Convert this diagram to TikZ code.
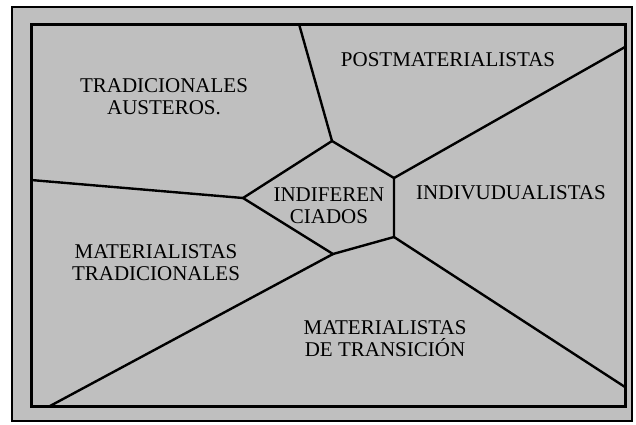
\documentclass[tikz,border=0pt]{standalone}
\usepackage{fontspec}
\setmainfont{Liberation Serif}
\begin{document}
\begin{tikzpicture}[x=1pt,y=-1pt,
  frame/.style={line width=3pt},
  seg/.style={line width=2.4pt, line join=miter},
  lbl/.style={font=\fontsize{21}{24}\selectfont, align=center, inner sep=0pt, text=black}]
\useasboundingbox (0,0) rectangle (636,424);
% outer thin frame with dotted-gray fill
\fill[black!25] (12,7) rectangle (632,421);
\draw[line width=1.5pt] (12,7) rectangle (632,421);
% inner thick frame
\draw[frame] (31,24) rectangle (625,406);
% pentagon vertices
\coordinate (pL) at (243,198);
\coordinate (pT) at (332,141);
\coordinate (pRT) at (394,178);
\coordinate (pRB) at (394,237);
\coordinate (pB) at (333,254);
% frame end points
\coordinate (eT) at (299,24);
\coordinate (eR) at (625,47);
\coordinate (eL) at (31,180);
\coordinate (eB) at (50,406);
\coordinate (eBR) at (625,387);
\draw[seg] (pL) -- (pT) -- (pRT) -- (pRB) -- (pB) -- cycle;
\draw[seg] (pT) -- (eT);
\draw[seg] (pRT) -- (eR);
\draw[seg] (pL) -- (eL);
\draw[seg] (pB) -- (eB);
\draw[seg] (pRB) -- (eBR);
% labels
\node[lbl] (ta) at (164,97) {TRADICIONALES\\[-2pt]AUSTEROS.};
\node[lbl] (pm) at (448,60) {POSTMATERIALISTAS};
\node[lbl] (ind) at (329,206) {INDIFEREN\\[-2pt]CIADOS};
\node[lbl] (iv) at (511,193) {INDIVUDUALISTAS};
\node[lbl] (mt) at (156,263) {MATERIALISTAS\\[-2pt]TRADICIONALES};
\node[lbl] (md) at (385,339) {MATERIALISTAS\\[-2pt]DE TRANSICIÓN};
\end{tikzpicture}
\end{document}
